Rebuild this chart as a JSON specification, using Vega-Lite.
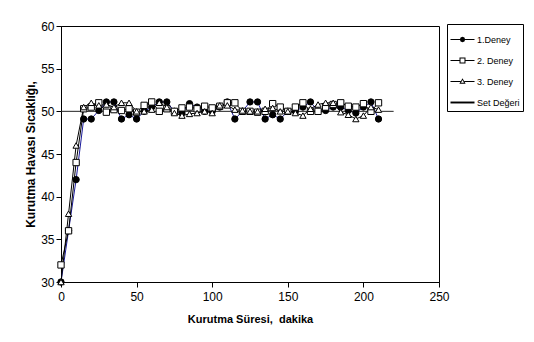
{
  "$schema": "https://vega.github.io/schema/vega-lite/v6.json",
  "width": 378,
  "height": 256,
  "autosize": "none",
  "padding": {"left": 61, "top": 26, "right": 95, "bottom": 60},
  "background": "white",
  "config": {
    "font": "Liberation Sans",
    "view": {"stroke": "#000", "strokeWidth": 1},
    "axis": {"grid": false, "labelFlush": false, "domainColor": "#000", "tickColor": "#000", "labelColor": "#000", "titleColor": "#000", "labelFont": "Liberation Sans", "titleFont": "Liberation Sans", "labelFontSize": 12, "titleFontWeight": "bold", "tickSize": 5}
  },
  "resolve": {"scale": {"shape": "independent"}},
  "datasets": {
    "d": [
      {"t":0,"v":30,"s":"1.Deney"},{"t":5,"v":36,"s":"1.Deney"},{"t":10,"v":42,"s":"1.Deney"},{"t":15,"v":49.1,"s":"1.Deney"},{"t":20,"v":49.1,"s":"1.Deney"},{"t":25,"v":50.1,"s":"1.Deney"},{"t":30,"v":51.1,"s":"1.Deney"},{"t":35,"v":51.1,"s":"1.Deney"},{"t":40,"v":49.1,"s":"1.Deney"},{"t":45,"v":49.6,"s":"1.Deney"},{"t":50,"v":49.1,"s":"1.Deney"},{"t":55,"v":50,"s":"1.Deney"},{"t":60,"v":50.5,"s":"1.Deney"},{"t":65,"v":51.1,"s":"1.Deney"},{"t":70,"v":51.1,"s":"1.Deney"},{"t":75,"v":50,"s":"1.Deney"},{"t":80,"v":49.8,"s":"1.Deney"},{"t":85,"v":50.9,"s":"1.Deney"},{"t":90,"v":50.5,"s":"1.Deney"},{"t":95,"v":50,"s":"1.Deney"},{"t":100,"v":50,"s":"1.Deney"},{"t":105,"v":50.5,"s":"1.Deney"},{"t":110,"v":51.1,"s":"1.Deney"},{"t":115,"v":49.1,"s":"1.Deney"},{"t":120,"v":50,"s":"1.Deney"},{"t":125,"v":51.1,"s":"1.Deney"},{"t":130,"v":51.1,"s":"1.Deney"},{"t":135,"v":49.1,"s":"1.Deney"},{"t":140,"v":49.6,"s":"1.Deney"},{"t":145,"v":49.1,"s":"1.Deney"},{"t":150,"v":50,"s":"1.Deney"},{"t":155,"v":50,"s":"1.Deney"},{"t":160,"v":50.5,"s":"1.Deney"},{"t":165,"v":51.1,"s":"1.Deney"},{"t":170,"v":50,"s":"1.Deney"},{"t":175,"v":50.1,"s":"1.Deney"},{"t":180,"v":50.5,"s":"1.Deney"},{"t":185,"v":50.5,"s":"1.Deney"},{"t":190,"v":50.1,"s":"1.Deney"},{"t":195,"v":49.8,"s":"1.Deney"},{"t":200,"v":50.5,"s":"1.Deney"},{"t":205,"v":51.1,"s":"1.Deney"},{"t":210,"v":49.1,"s":"1.Deney"},
      {"t":0,"v":32,"s":"2. Deney"},{"t":5,"v":36,"s":"2. Deney"},{"t":10,"v":44,"s":"2. Deney"},{"t":15,"v":50.3,"s":"2. Deney"},{"t":20,"v":50.5,"s":"2. Deney"},{"t":25,"v":51,"s":"2. Deney"},{"t":30,"v":49.9,"s":"2. Deney"},{"t":35,"v":50.2,"s":"2. Deney"},{"t":40,"v":50.1,"s":"2. Deney"},{"t":45,"v":50.3,"s":"2. Deney"},{"t":50,"v":49.9,"s":"2. Deney"},{"t":55,"v":50.7,"s":"2. Deney"},{"t":60,"v":51.1,"s":"2. Deney"},{"t":65,"v":50,"s":"2. Deney"},{"t":70,"v":50.3,"s":"2. Deney"},{"t":75,"v":50,"s":"2. Deney"},{"t":80,"v":50.4,"s":"2. Deney"},{"t":85,"v":50.5,"s":"2. Deney"},{"t":90,"v":50.3,"s":"2. Deney"},{"t":95,"v":50.6,"s":"2. Deney"},{"t":100,"v":50.4,"s":"2. Deney"},{"t":105,"v":50.6,"s":"2. Deney"},{"t":110,"v":51,"s":"2. Deney"},{"t":115,"v":51,"s":"2. Deney"},{"t":120,"v":50,"s":"2. Deney"},{"t":125,"v":50,"s":"2. Deney"},{"t":130,"v":49.9,"s":"2. Deney"},{"t":135,"v":50,"s":"2. Deney"},{"t":140,"v":50.9,"s":"2. Deney"},{"t":145,"v":50.5,"s":"2. Deney"},{"t":150,"v":50,"s":"2. Deney"},{"t":155,"v":50.5,"s":"2. Deney"},{"t":160,"v":51,"s":"2. Deney"},{"t":165,"v":50,"s":"2. Deney"},{"t":170,"v":50,"s":"2. Deney"},{"t":175,"v":50.5,"s":"2. Deney"},{"t":180,"v":50.8,"s":"2. Deney"},{"t":185,"v":51,"s":"2. Deney"},{"t":190,"v":50.6,"s":"2. Deney"},{"t":195,"v":50.5,"s":"2. Deney"},{"t":200,"v":50.9,"s":"2. Deney"},{"t":205,"v":50,"s":"2. Deney"},{"t":210,"v":51,"s":"2. Deney"},
      {"t":0,"v":30,"s":"3. Deney"},{"t":5,"v":38,"s":"3. Deney"},{"t":10,"v":46,"s":"3. Deney"},{"t":15,"v":50.5,"s":"3. Deney"},{"t":20,"v":51,"s":"3. Deney"},{"t":25,"v":50.7,"s":"3. Deney"},{"t":30,"v":50.8,"s":"3. Deney"},{"t":35,"v":50.5,"s":"3. Deney"},{"t":40,"v":51,"s":"3. Deney"},{"t":45,"v":51,"s":"3. Deney"},{"t":50,"v":50,"s":"3. Deney"},{"t":55,"v":50,"s":"3. Deney"},{"t":60,"v":50.2,"s":"3. Deney"},{"t":65,"v":51,"s":"3. Deney"},{"t":70,"v":50.5,"s":"3. Deney"},{"t":75,"v":49.8,"s":"3. Deney"},{"t":80,"v":49.5,"s":"3. Deney"},{"t":85,"v":49.7,"s":"3. Deney"},{"t":90,"v":49.8,"s":"3. Deney"},{"t":95,"v":50,"s":"3. Deney"},{"t":100,"v":49.8,"s":"3. Deney"},{"t":105,"v":50.7,"s":"3. Deney"},{"t":110,"v":50.7,"s":"3. Deney"},{"t":115,"v":50.2,"s":"3. Deney"},{"t":120,"v":50.1,"s":"3. Deney"},{"t":125,"v":50,"s":"3. Deney"},{"t":130,"v":50,"s":"3. Deney"},{"t":135,"v":50.3,"s":"3. Deney"},{"t":140,"v":50.4,"s":"3. Deney"},{"t":145,"v":50,"s":"3. Deney"},{"t":150,"v":50,"s":"3. Deney"},{"t":155,"v":49.8,"s":"3. Deney"},{"t":160,"v":49.5,"s":"3. Deney"},{"t":165,"v":50.3,"s":"3. Deney"},{"t":170,"v":50.8,"s":"3. Deney"},{"t":175,"v":51,"s":"3. Deney"},{"t":180,"v":51,"s":"3. Deney"},{"t":185,"v":49.9,"s":"3. Deney"},{"t":190,"v":49.6,"s":"3. Deney"},{"t":195,"v":49.1,"s":"3. Deney"},{"t":200,"v":49.5,"s":"3. Deney"},{"t":205,"v":50.5,"s":"3. Deney"},{"t":210,"v":50.2,"s":"3. Deney"},
      {"t":0,"v":50,"s":"Set Değeri"},{"t":220,"v":50,"s":"Set Değeri"}
    ]
  },
  "data": {"name": "d"},
  "encoding": {
    "x": {"field": "t", "type": "quantitative", "scale": {"domain": [0, 250], "nice": false}, "axis": {"values": [0, 50, 100, 150, 200, 250], "title": "Kurutma Süresi,\u00a0 dakika", "titleFontSize": 11, "titlePadding": 11, "labelPadding": 4}},
    "y": {"field": "v", "type": "quantitative", "scale": {"domain": [30, 60], "nice": false, "zero": false}, "axis": {"values": [30, 35, 40, 45, 50, 55, 60], "title": "Kurutma Havası Sıcaklığı,", "titleFontSize": 12, "titlePadding": 3, "labelPadding": 2}}
  },
  "layer": [
    {
      "mark": {"type": "line", "clip": false},
      "encoding": {
        "stroke": {"field": "s", "type": "nominal", "scale": {"domain": ["1.Deney", "2. Deney", "3. Deney", "Set Değeri"], "range": ["#1a1a9a", "#000000", "#000000", "#222222"]}, "legend": null},
        "strokeWidth": {"field": "s", "type": "nominal", "scale": {"domain": ["1.Deney", "2. Deney", "3. Deney", "Set Değeri"], "range": [1, 1, 1, 2]}, "legend": null},
        "detail": {"field": "s"}
      }
    },
    {
      "transform": [{"filter": "datum.s !== 'Set Değeri'"}],
      "mark": {"type": "point", "filled": false, "size": 40, "strokeWidth": 1, "opacity": 1, "clip": false},
      "encoding": {
        "shape": {"field": "s", "type": "nominal", "scale": {"domain": ["1.Deney", "2. Deney", "3. Deney", "Set Değeri"], "range": ["circle", "square", "triangle-up", "circle"]}, "legend": null},
        "fill": {"field": "s", "type": "nominal", "scale": {"domain": ["1.Deney", "2. Deney", "3. Deney", "Set Değeri"], "range": ["#000000", "#ffffff", "#ffffff", "#ffffff"]}, "legend": null},
        "stroke": {"value": "#000"}
      }
    },
    {
      "transform": [{"filter": "datum.t < 0"}],
      "mark": {"type": "point", "filled": false, "strokeWidth": 1, "opacity": 1, "stroke": "#000"},
      "encoding": {
        "shape": {"field": "s", "type": "nominal", "scale": {"domain": ["1.Deney", "2. Deney", "3. Deney", "Set Değeri"], "range": [
          "M -1 -0.045 L 1 -0.045 L 1 0.045 L -1 0.045 Z M 0.22 0 L 0.16 0.16 L 0 0.22 L -0.16 0.16 L -0.22 0 L -0.16 -0.16 L 0 -0.22 L 0.16 -0.16 Z",
          "M -1 -0.045 L -0.25 -0.045 L -0.25 0.045 L -1 0.045 Z M 0.25 -0.045 L 1 -0.045 L 1 0.045 L 0.25 0.045 Z M -0.25 -0.25 L 0.25 -0.25 L 0.25 0.25 L -0.25 0.25 Z M -0.165 -0.165 L -0.165 0.165 L 0.165 0.165 L 0.165 -0.165 Z",
          "M -1 -0.045 L -0.16 -0.045 L -0.16 0.045 L -1 0.045 Z M 0.16 -0.045 L 1 -0.045 L 1 0.045 L 0.16 0.045 Z M 0 -0.28 L 0.26 0.18 L -0.26 0.18 Z M 0 -0.118 L -0.123 0.1 L 0.123 0.1 Z",
          "M -1 -0.08 L 1 -0.08 L 1 0.08 L -1 0.08 Z"]},
          "legend": {
            "title": null, "orient": "none", "legendX": 386, "legendY": -2,
            "strokeColor": "#000", "fillColor": "white", "padding": 3,
            "symbolSize": 576, "rowPadding": 3, "labelFontSize": 9, "labelFont": "Liberation Sans", "labelColor": "#000", "labelOffset": 2, "labelLimit": 60,
            "symbolOpacity": 1, "symbolStrokeColor": "#000", "symbolStrokeWidth": 0.3
          }
        },
        "fill": {"field": "s", "type": "nominal", "scale": {"domain": ["1.Deney", "2. Deney", "3. Deney", "Set Değeri"], "range": ["#000000", "#ffffff", "#ffffff", "#ffffff"]}, "legend": null}
      }
    }
  ]
}
